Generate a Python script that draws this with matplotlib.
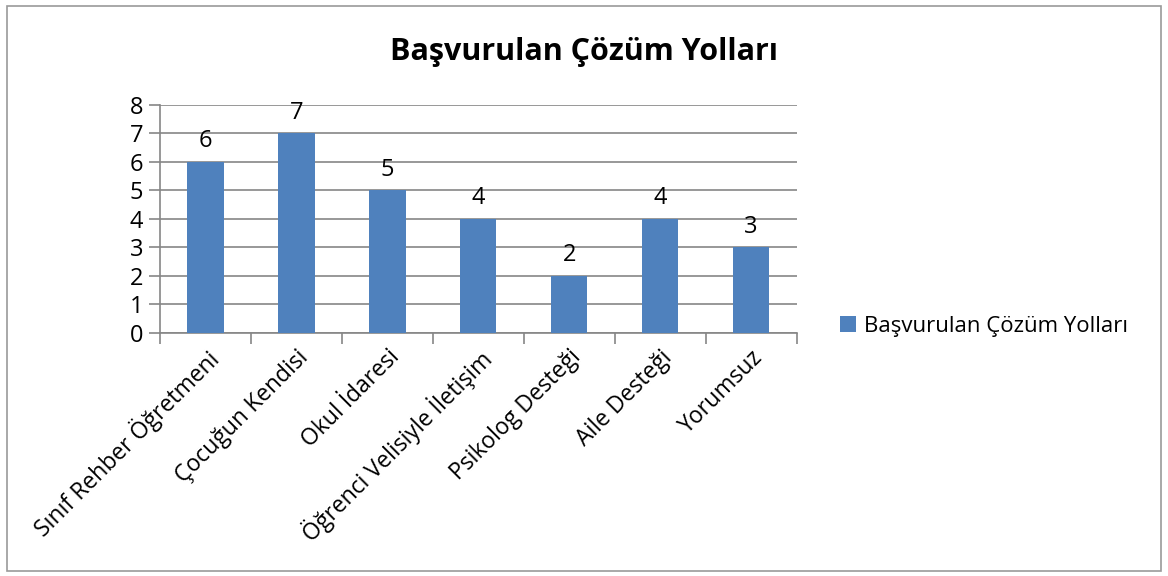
import numpy as np
import matplotlib.pyplot as plt
from matplotlib.patches import Rectangle

categories = ['Sınıf Rehber Öğretmeni', 'Çocuğun Kendisi', 'Okul İdaresi',
              'Öğrenci Velisiyle İletişim', 'Psikolog Desteği', 'Aile Desteği', 'Yorumsuz']
values = [6, 7, 5, 4, 2, 4, 3]
series_name = 'Başvurulan Çözüm Yolları'

plt.rcParams['font.family'] = ['Open Sans', 'DejaVu Sans']

fig = plt.figure(figsize=(11.68, 5.76), dpi=100)
fig.patches.append(Rectangle((0.006, 0.008), 0.988, 0.982, transform=fig.transFigure,
                             fill=False, edgecolor='#9a9a9a', linewidth=1.2))
ax = fig.add_axes([0.137, 0.422, 0.545, 0.396])

x = np.arange(len(categories))
bars = ax.bar(x, values, width=0.4, color='#4F81BD', zorder=3, label=series_name)
for xi, v in zip(x, values):
    ax.text(xi, v + 0.3, str(v), ha='center', va='bottom', fontsize=17)

ax.set_xlim(-0.5, len(categories) - 0.5)
ax.set_ylim(0, 8)
ax.set_yticks(range(0, 9))
ax.yaxis.grid(True, color='#868686', linewidth=1.2, zorder=0)
ax.tick_params(axis='y', length=8, color='#868686', width=1.2, labelsize=17, pad=4)

ax.set_xticks(x)
ax.set_xticklabels(categories, rotation=45, ha='right', rotation_mode='anchor', fontsize=16.5)
ax.tick_params(axis='x', length=0, pad=9)
ax.set_xticks(np.arange(-0.5, len(categories)), minor=True)
ax.tick_params(axis='x', which='minor', length=8, color='#868686', width=1.2)

for s in ['top', 'right']:
    ax.spines[s].set_visible(False)
for s in ['left', 'bottom']:
    ax.spines[s].set_color('#868686')
    ax.spines[s].set_linewidth(1.2)

fig.text(0.5, 0.91, 'Başvurulan Çözüm Yolları', ha='center', va='center',
         fontsize=22, fontweight='bold')

ax.legend(loc='center left', bbox_to_anchor=(1.055, 0.03), frameon=False, fontsize=16,
          handlelength=0.7, handleheight=0.7, handletextpad=0.35, borderaxespad=0)

plt.savefig('out.png')
